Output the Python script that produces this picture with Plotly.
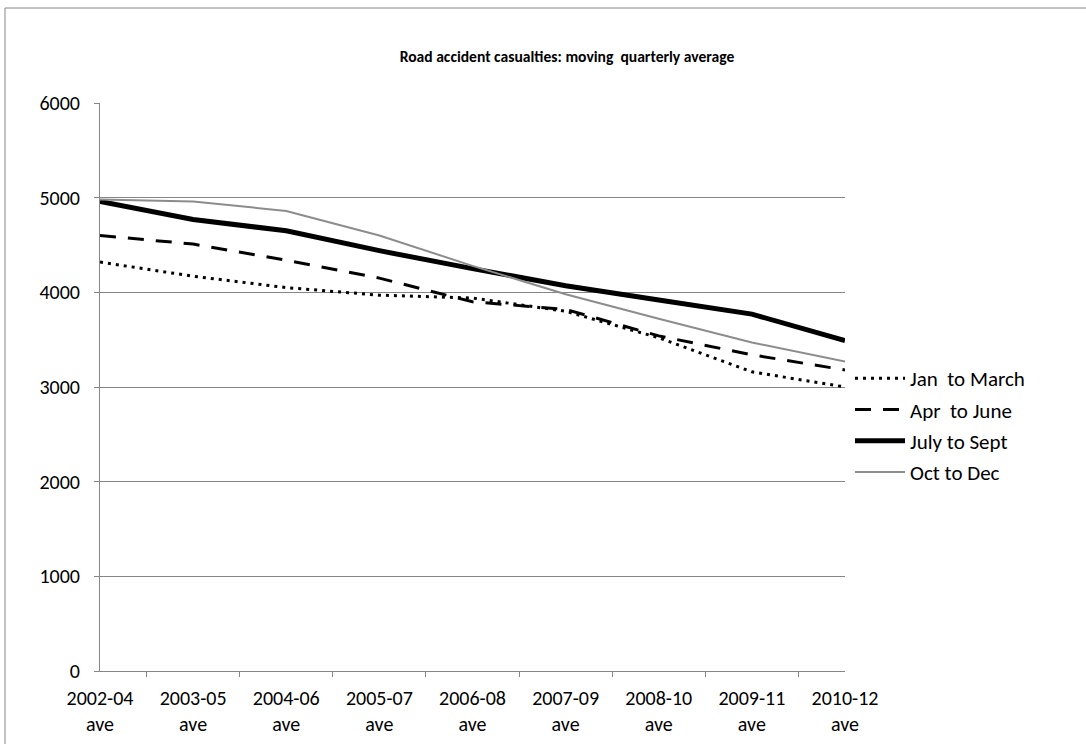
import plotly.graph_objects as go

periods = ["2002-04<br>ave", "2003-05<br>ave", "2004-06<br>ave", "2005-07<br>ave",
           "2006-08<br>ave", "2007-09<br>ave", "2008-10<br>ave", "2009-11<br>ave",
           "2010-12<br>ave"]

jan_mar = [4320, 4170, 4050, 3970, 3940, 3800, 3520, 3160, 3000]
apr_jun = [4600, 4510, 4340, 4150, 3900, 3820, 3540, 3340, 3180]
jul_sep = [4960, 4770, 4650, 4440, 4250, 4070, 3920, 3770, 3490]
oct_dec = [4980, 4960, 4860, 4600, 4280, 3980, 3720, 3470, 3270]

W, H = 1086, 744
L, R, T, B = 100, 241, 103, 73
pw, ph = W - L - R, H - T - B

font = "Carlito, Calibri, Lato, sans-serif"
NB = "\u00a0"

fig = go.Figure()
fig.add_trace(go.Scatter(x=periods, y=jan_mar, mode="lines", name="Jan" + NB + " to March",
                         legendgroup="a", line=dict(color="black", width=3, dash="3px,5px")))
fig.add_trace(go.Scatter(x=periods, y=apr_jun, mode="lines", name="Apr" + NB + " to June",
                         legendgroup="b", line=dict(color="black", width=3, dash="16px,12px")))
fig.add_trace(go.Scatter(x=periods, y=jul_sep, mode="lines", name="July to Sept",
                         legendgroup="c", line=dict(color="black", width=5)))
fig.add_trace(go.Scatter(x=periods, y=oct_dec, mode="lines", name="Oct to Dec",
                         legendgroup="d", line=dict(color="#8c8c8c", width=2)))

fig.update_layout(
    width=W, height=H,
    margin=dict(l=L, r=R, t=T, b=B),
    paper_bgcolor="white", plot_bgcolor="white",
    font=dict(family=font, size=20, color="black"),
    title=dict(text="<b>Road accident casualties: moving" + NB + " quarterly average</b>",
               x=567 / W, xanchor="center", y=1 - 57 / H, yanchor="middle",
               font=dict(size=15.6)),
    xaxis=dict(type="category", tickson="boundaries", ticks="outside", ticklen=5,
               tickcolor="#868686", showline=True, linecolor="#868686", linewidth=1,
               showgrid=False, tickfont=dict(size=20), ticklabelstandoff=9,
               automargin=False, fixedrange=True),
    yaxis=dict(range=[0, 6000], dtick=1000, ticks="outside", ticklen=5,
               tickcolor="#868686", showline=True, linecolor="#868686", linewidth=1,
               showgrid=True, gridcolor="#868686", gridwidth=1, zeroline=False,
               ticklabelstandoff=10, tickfont=dict(size=20), automargin=False,
               fixedrange=True),
    legend=dict(x=(850 - L) / pw, xanchor="left", y=1 - (358 - T) / ph, yanchor="top",
                tracegroupgap=1, itemwidth=50, font=dict(size=21),
                bgcolor="rgba(0,0,0,0)"),
    showlegend=True,
    shapes=[dict(type="rect", xref="paper", yref="paper",
                 x0=(5 - L) / pw, x1=(W + 10 - L) / pw,
                 y0=1 - (H + 10 - T) / ph, y1=1 - (8 - T) / ph,
                 line=dict(color="#868686", width=1), layer="below")],
)

fig.write_html("out.html", config={"displayModeBar": False},
               post_script="document.body.style.margin='0';")
